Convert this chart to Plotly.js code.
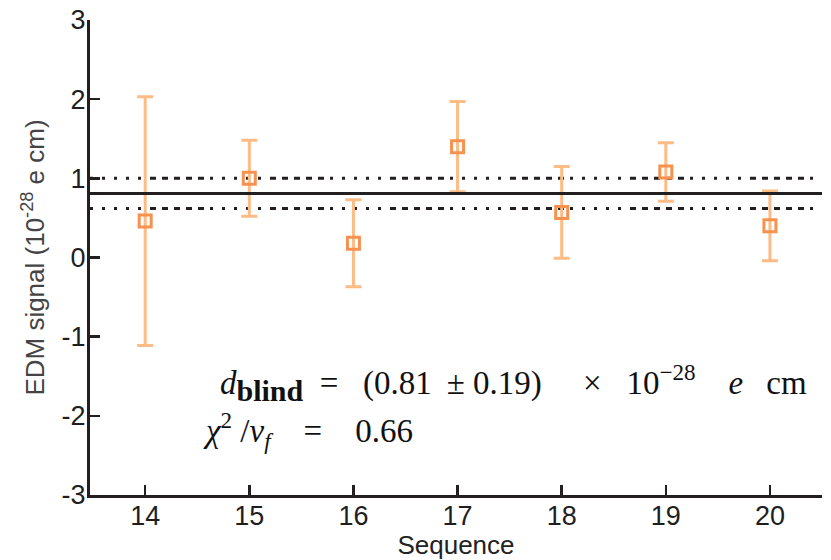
<!DOCTYPE html>
<html>
<head>
<meta charset="utf-8">
<script src="https://cdn.plot.ly/plotly-3.0.1.min.js"></script>
<style>html,body{margin:0;padding:0;background:#fff;}#chart{width:831px;height:560px;}</style>
</head>
<body>
<div id="chart"></div>
<script>
// ---- data ----
const sequences = [14, 15, 16, 17, 18, 19, 20];
const edmSignal = [0.46, 1.00, 0.18, 1.40, 0.57, 1.08, 0.40];
const edmError  = [1.57, 0.48, 0.55, 0.57, 0.58, 0.37, 0.44];
const dBlind = 0.81;
const dBlindErr = 0.19;
const chi2PerDof = 0.66;
const xTicks = [14, 15, 16, 17, 18, 19, 20];
const yTicks = [-3, -2, -1, 0, 1, 2, 3];

const ink = '#231f20';
const sans = '"Liberation Sans Narrow", "Liberation Sans", Arial, sans-serif';
const serif = '"Liberation Serif", "DejaVu Serif", serif';
const dotDash = '3px,9px,3px,9px,3px,9px,3px,9px,3px,9px,6px,6px,6px,6px,6px,6px,6px,6px,6px,6px';
const sp = n => '\u00A0'.repeat(n);
const th = '\u2009';

const trace = {
  x: sequences, y: edmSignal, type: 'scatter', mode: 'markers',
  marker: {symbol: 'square-open', size: 12, color: '#f7914f', line: {width: 3, color: '#f7914f'}},
  error_y: {type: 'data', array: edmError, visible: true, color: '#fdbb85', thickness: 3, width: 8},
  showlegend: false, hoverinfo: 'x+y'
};

const line1 = '<i>d</i><sub><b><span style="font-size:30px">blind</span></b></sub>' + sp(2) + '=' + sp(3) +
  '(' + dBlind.toFixed(2) + sp(1) + th + '±' + sp(1) + dBlindErr.toFixed(2) + ')' + sp(5) + '×' + sp(3) +
  '10<sup>−28</sup>' + sp(4) + '<i>e</i>' + sp(2) + th + 'cm';
const line2 = '<i>χ</i><sup>2</sup>' + sp(1) + '/<i>ν</i><sub><i>f</i></sub>' + sp(4) + '=' + sp(4) + chi2PerDof.toFixed(2);

const layout = {
  width: 831, height: 560,
  margin: {l: 90, r: 9, t: 20, b: 65},
  paper_bgcolor: '#ffffff', plot_bgcolor: '#ffffff',
  showlegend: false,
  xaxis: {
    range: [13.47, 20.5], tickvals: xTicks, ticktext: xTicks.map(String),
    showgrid: false, zeroline: false, showline: true, linecolor: ink, linewidth: 3,
    ticks: 'inside', ticklen: 10, tickwidth: 2.5, tickcolor: ink, ticklabelstandoff: -5,
    tickfont: {family: sans, size: 27, color: '#1e1e1e'},
    title: {text: 'Sequence', font: {family: sans, size: 26, color: '#222222'}, standoff: 6}
  },
  yaxis: {
    range: [-3, 3], tickvals: yTicks, ticktext: yTicks.map(String),
    showgrid: false, zeroline: false, showline: true, linecolor: ink, linewidth: 3,
    ticks: 'inside', ticklen: 10, tickwidth: 2.5, tickcolor: ink, ticklabelstandoff: -4,
    tickfont: {family: sans, size: 27, color: '#1e1e1e'},
    title: {text: 'EDM signal (10<sup>-28</sup> e cm)', font: {family: sans, size: 26, color: '#444444'}, standoff: 10}
  },
  shapes: [
    {type: 'line', xref: 'paper', x0: 0, x1: 1, yref: 'y', y0: dBlind, y1: dBlind, layer: 'above', line: {color: ink, width: 3}},
    {type: 'line', xref: 'paper', x0: 0, x1: 1, yref: 'y', y0: dBlind + dBlindErr, y1: dBlind + dBlindErr, layer: 'below', line: {color: ink, width: 3, dash: dotDash}},
    {type: 'line', xref: 'paper', x0: 0, x1: 1, yref: 'y', y0: dBlind - dBlindErr, y1: dBlind - dBlindErr, layer: 'below', line: {color: ink, width: 3, dash: dotDash}}
  ],
  annotations: [
    {xref: 'x', yref: 'y', x: 14.70, y: -1.58, xanchor: 'left', yanchor: 'middle', showarrow: false,
     text: line1, font: {family: serif, size: 33, color: '#111111'}},
    {xref: 'x', yref: 'y', x: 14.54, y: -2.19, xanchor: 'left', yanchor: 'middle', showarrow: false,
     text: line2, font: {family: serif, size: 33, color: '#111111'}}
  ]
};

Plotly.newPlot('chart', [trace], layout, {displayModeBar: false, staticPlot: true});
</script>
</body>
</html>
